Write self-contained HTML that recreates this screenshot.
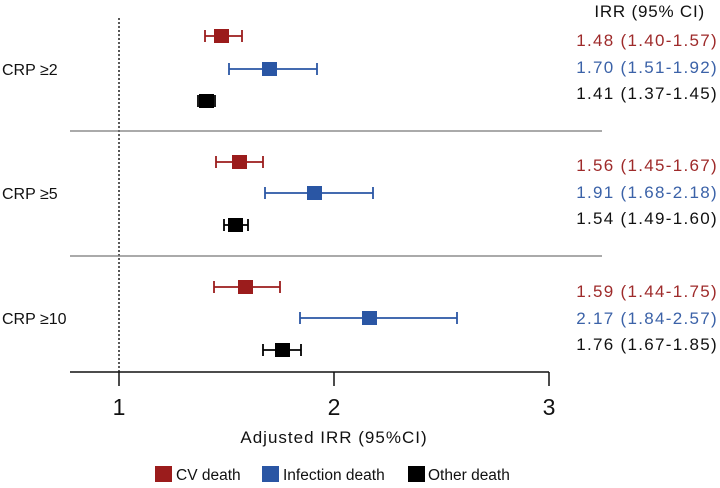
<!DOCTYPE html><html><head><style>body{margin:0;background:#fff}</style></head><body>
<svg width="720" height="483" xmlns="http://www.w3.org/2000/svg" font-family="Liberation Sans, sans-serif">
<line x1="119" y1="18" x2="119" y2="372" stroke="#222" stroke-width="1.5" stroke-dasharray="2,2"/>
<line x1="70" y1="131" x2="602" y2="131" stroke="#777" stroke-width="1.3"/>
<line x1="70" y1="256" x2="602" y2="256" stroke="#777" stroke-width="1.3"/>
<line x1="70" y1="372" x2="549" y2="372" stroke="#111" stroke-width="1.5"/>
<g stroke="#111" stroke-width="1.5"><line x1="119" y1="372" x2="119" y2="386"/><line x1="334" y1="372" x2="334" y2="386"/><line x1="549" y1="372" x2="549" y2="386"/></g>
<g font-size="23" text-anchor="middle" fill="#111"><text x="119" y="415">1</text><text x="334" y="415">2</text><text x="549" y="415">3</text></g>
<text x="334" y="443" font-size="17" letter-spacing="1" text-anchor="middle" fill="#111">Adjusted IRR (95%CI)</text>
<g font-size="16" fill="#111"><text x="2" y="75">CRP ≥2</text><text x="2" y="199">CRP ≥5</text><text x="2" y="324">CRP ≥10</text></g>
<g stroke-width="1.8">
<g stroke="#9b1c1c"><line x1="205" y1="36" x2="242" y2="36"/><line x1="205" y1="30" x2="205" y2="42"/><line x1="242" y1="30" x2="242" y2="42"/></g>
<rect x="214" y="29" width="15" height="14" fill="#9b1c1c"/>
<g stroke="#2a56a4"><line x1="229" y1="69" x2="317" y2="69"/><line x1="229" y1="63" x2="229" y2="75"/><line x1="317" y1="63" x2="317" y2="75"/></g>
<rect x="262" y="62" width="15" height="14" fill="#2a56a4"/>
<g stroke="#000"><line x1="198" y1="95" x2="198" y2="107"/><line x1="215" y1="95" x2="215" y2="107"/></g>
<rect x="199" y="94" width="15" height="14" fill="#000"/>
<g stroke="#9b1c1c"><line x1="216" y1="162" x2="263" y2="162"/><line x1="216" y1="156" x2="216" y2="168"/><line x1="263" y1="156" x2="263" y2="168"/></g>
<rect x="232" y="155" width="15" height="14" fill="#9b1c1c"/>
<g stroke="#2a56a4"><line x1="265" y1="193" x2="373" y2="193"/><line x1="265" y1="187" x2="265" y2="199"/><line x1="373" y1="187" x2="373" y2="199"/></g>
<rect x="307" y="186" width="15" height="14" fill="#2a56a4"/>
<g stroke="#000"><line x1="224" y1="225" x2="248" y2="225"/><line x1="224" y1="219" x2="224" y2="231"/><line x1="248" y1="219" x2="248" y2="231"/></g>
<rect x="228" y="218" width="15" height="14" fill="#000"/>
<g stroke="#9b1c1c"><line x1="214" y1="287" x2="280" y2="287"/><line x1="214" y1="281" x2="214" y2="293"/><line x1="280" y1="281" x2="280" y2="293"/></g>
<rect x="238" y="280" width="15" height="14" fill="#9b1c1c"/>
<g stroke="#2a56a4"><line x1="300" y1="318" x2="457" y2="318"/><line x1="300" y1="312" x2="300" y2="324"/><line x1="457" y1="312" x2="457" y2="324"/></g>
<rect x="362" y="311" width="15" height="14" fill="#2a56a4"/>
<g stroke="#000"><line x1="263" y1="350" x2="301" y2="350"/><line x1="263" y1="344" x2="263" y2="356"/><line x1="301" y1="344" x2="301" y2="356"/></g>
<rect x="275" y="343" width="15" height="14" fill="#000"/>
</g>
<g font-size="17" letter-spacing="1.3" text-anchor="end">
<text x="705" y="17" fill="#111" letter-spacing="0.8">IRR (95% CI)</text>
<text x="718" y="46" fill="#9e2a2a">1.48 (1.40-1.57)</text>
<text x="718" y="73" fill="#3b62a8">1.70 (1.51-1.92)</text>
<text x="718" y="99" fill="#111">1.41 (1.37-1.45)</text>
<text x="718" y="171" fill="#9e2a2a">1.56 (1.45-1.67)</text>
<text x="718" y="198" fill="#3b62a8">1.91 (1.68-2.18)</text>
<text x="718" y="224" fill="#111">1.54 (1.49-1.60)</text>
<text x="718" y="297" fill="#9e2a2a">1.59 (1.44-1.75)</text>
<text x="718" y="324" fill="#3b62a8">2.17 (1.84-2.57)</text>
<text x="718" y="350" fill="#111">1.76 (1.67-1.85)</text>
</g>
<rect x="155" y="466" width="17" height="16" fill="#9b1c1c"/><text x="176" y="480" font-size="15.5" fill="#111">CV death</text>
<rect x="262" y="466" width="17" height="16" fill="#2a56a4"/><text x="283" y="480" font-size="15.5" fill="#111">Infection death</text>
<rect x="408" y="466" width="17" height="16" fill="#000"/><text x="428" y="480" font-size="15.5" fill="#111">Other death</text>
</svg></body></html>
